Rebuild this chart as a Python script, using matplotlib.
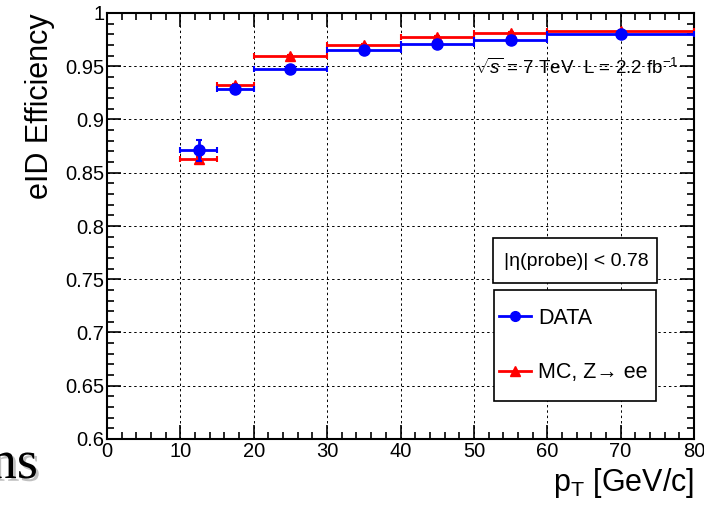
import matplotlib
matplotlib.use("Agg")
import matplotlib.pyplot as plt
import matplotlib.patheffects as pe
from matplotlib.patches import Rectangle
from matplotlib.lines import Line2D
from matplotlib.ticker import MultipleLocator, FuncFormatter
import numpy as np

plt.rcParams['font.family'] = ['Liberation Sans', 'DejaVu Sans']
plt.rcParams['mathtext.fontset'] = 'custom'
plt.rcParams['mathtext.rm'] = 'Liberation Sans'
plt.rcParams['mathtext.it'] = 'Liberation Sans:italic'
plt.rcParams['mathtext.bf'] = 'Liberation Sans:bold'

# pT bins (GeV/c)
bin_lo = [10, 15, 20, 30, 40, 50, 60]
bin_hi = [15, 20, 30, 40, 50, 60, 80]
bin_center = [12.5, 17.5, 25, 35, 45, 55, 70]

# efficiencies
eff_data = [0.871, 0.929, 0.9475, 0.965, 0.971, 0.975, 0.980]
err_data = [0.010, 0.003, 0.002, 0.001, 0.001, 0.001, 0.001]
eff_mc = [0.863, 0.932, 0.960, 0.970, 0.977, 0.981, 0.983]
err_mc = [0.002, 0.001, 0.001, 0.001, 0.001, 0.001, 0.001]

x = np.array(bin_center)
xerr = [x - np.array(bin_lo), np.array(bin_hi) - x]

fig = plt.figure(figsize=(7.04, 5.05), dpi=100)
ax = fig.add_axes([107/704, 1 - 439/505, 587/704, 426/505])

ax.errorbar(x, eff_mc, xerr=xerr, yerr=err_mc, fmt='^', color='red',
            markersize=7, elinewidth=2, capsize=2.5, capthick=1.5, zorder=3)
ax.errorbar(x, eff_data, xerr=xerr, yerr=err_data, fmt='o', color='blue',
            markersize=8, elinewidth=2, capsize=2.5, capthick=1.5, zorder=4)

ax.set_xlim(0, 80)
ax.set_ylim(0.6, 1.0)
ax.xaxis.set_major_locator(MultipleLocator(10))
ax.xaxis.set_minor_locator(MultipleLocator(2))
ax.yaxis.set_major_locator(MultipleLocator(0.05))
ax.yaxis.set_minor_locator(MultipleLocator(0.01))
ax.yaxis.set_major_formatter(FuncFormatter(lambda v, p: '%g' % round(v, 3)))
ax.tick_params(which='both', direction='in', top=True, right=True, width=1.2,
               labelsize=14.5, colors='black')
ax.tick_params(which='major', length=10, pad=2)
ax.tick_params(which='minor', length=5)
ax.grid(True, which='major', color='black', linestyle=(0, (2.5, 3)), linewidth=0.7)
for s in ax.spines.values():
    s.set_linewidth(1.5)

ax.set_ylabel('eID Efficiency', fontsize=22, loc='top', labelpad=7)
ax.set_xlabel(r'p$_{\mathrm{T}}$ [GeV/c]', fontsize=22, loc='right', labelpad=4)

ax.text(0.973, 0.857, r'$\sqrt{s}$ = 7 TeV  L = 2.2 fb$^{-1}$', transform=ax.transAxes,
        ha='right', va='baseline', fontsize=13.5)

# selection box
fig.add_artist(Rectangle((493/704, 1 - 283/505), 164/704, 45/505, transform=fig.transFigure,
                         facecolor='white', edgecolor='black', linewidth=1.2, zorder=5))
fig.text(576/704, 1 - 261/505, '|η(probe)| < 0.78', ha='center', va='center',
         fontsize=14, zorder=6)

# legend box
fig.add_artist(Rectangle((494/704, 1 - 401/505), 162/704, 111/505, transform=fig.transFigure,
                         facecolor='white', edgecolor='black', linewidth=1.2, zorder=5))
h_data = Line2D([], [], color='blue', marker='o', linewidth=2, markersize=7)
h_mc = Line2D([], [], color='red', marker='^', linewidth=2, markersize=7)
leg = fig.legend(handles=[h_data, h_mc], labels=['DATA', 'MC, Z→ ee'],
                 loc='center left',
                 bbox_to_anchor=(499/704, 1 - 401/505, 157/704, 111/505),
                 fontsize=15.5, frameon=False, borderaxespad=0, borderpad=0,
                 labelspacing=1.55, handlelength=1.5, handletextpad=0.3)
leg.set_zorder(6)

# cropped slide text at bottom left
fig.text(38/704, 1 - 478/505, 'ns', ha='right', va='baseline', fontsize=39,
         family='Liberation Serif',
         path_effects=[pe.withSimplePatchShadow(offset=(2, -2), shadow_rgbFace='gray', alpha=0.5)])

fig.savefig('out.png', dpi=100)
